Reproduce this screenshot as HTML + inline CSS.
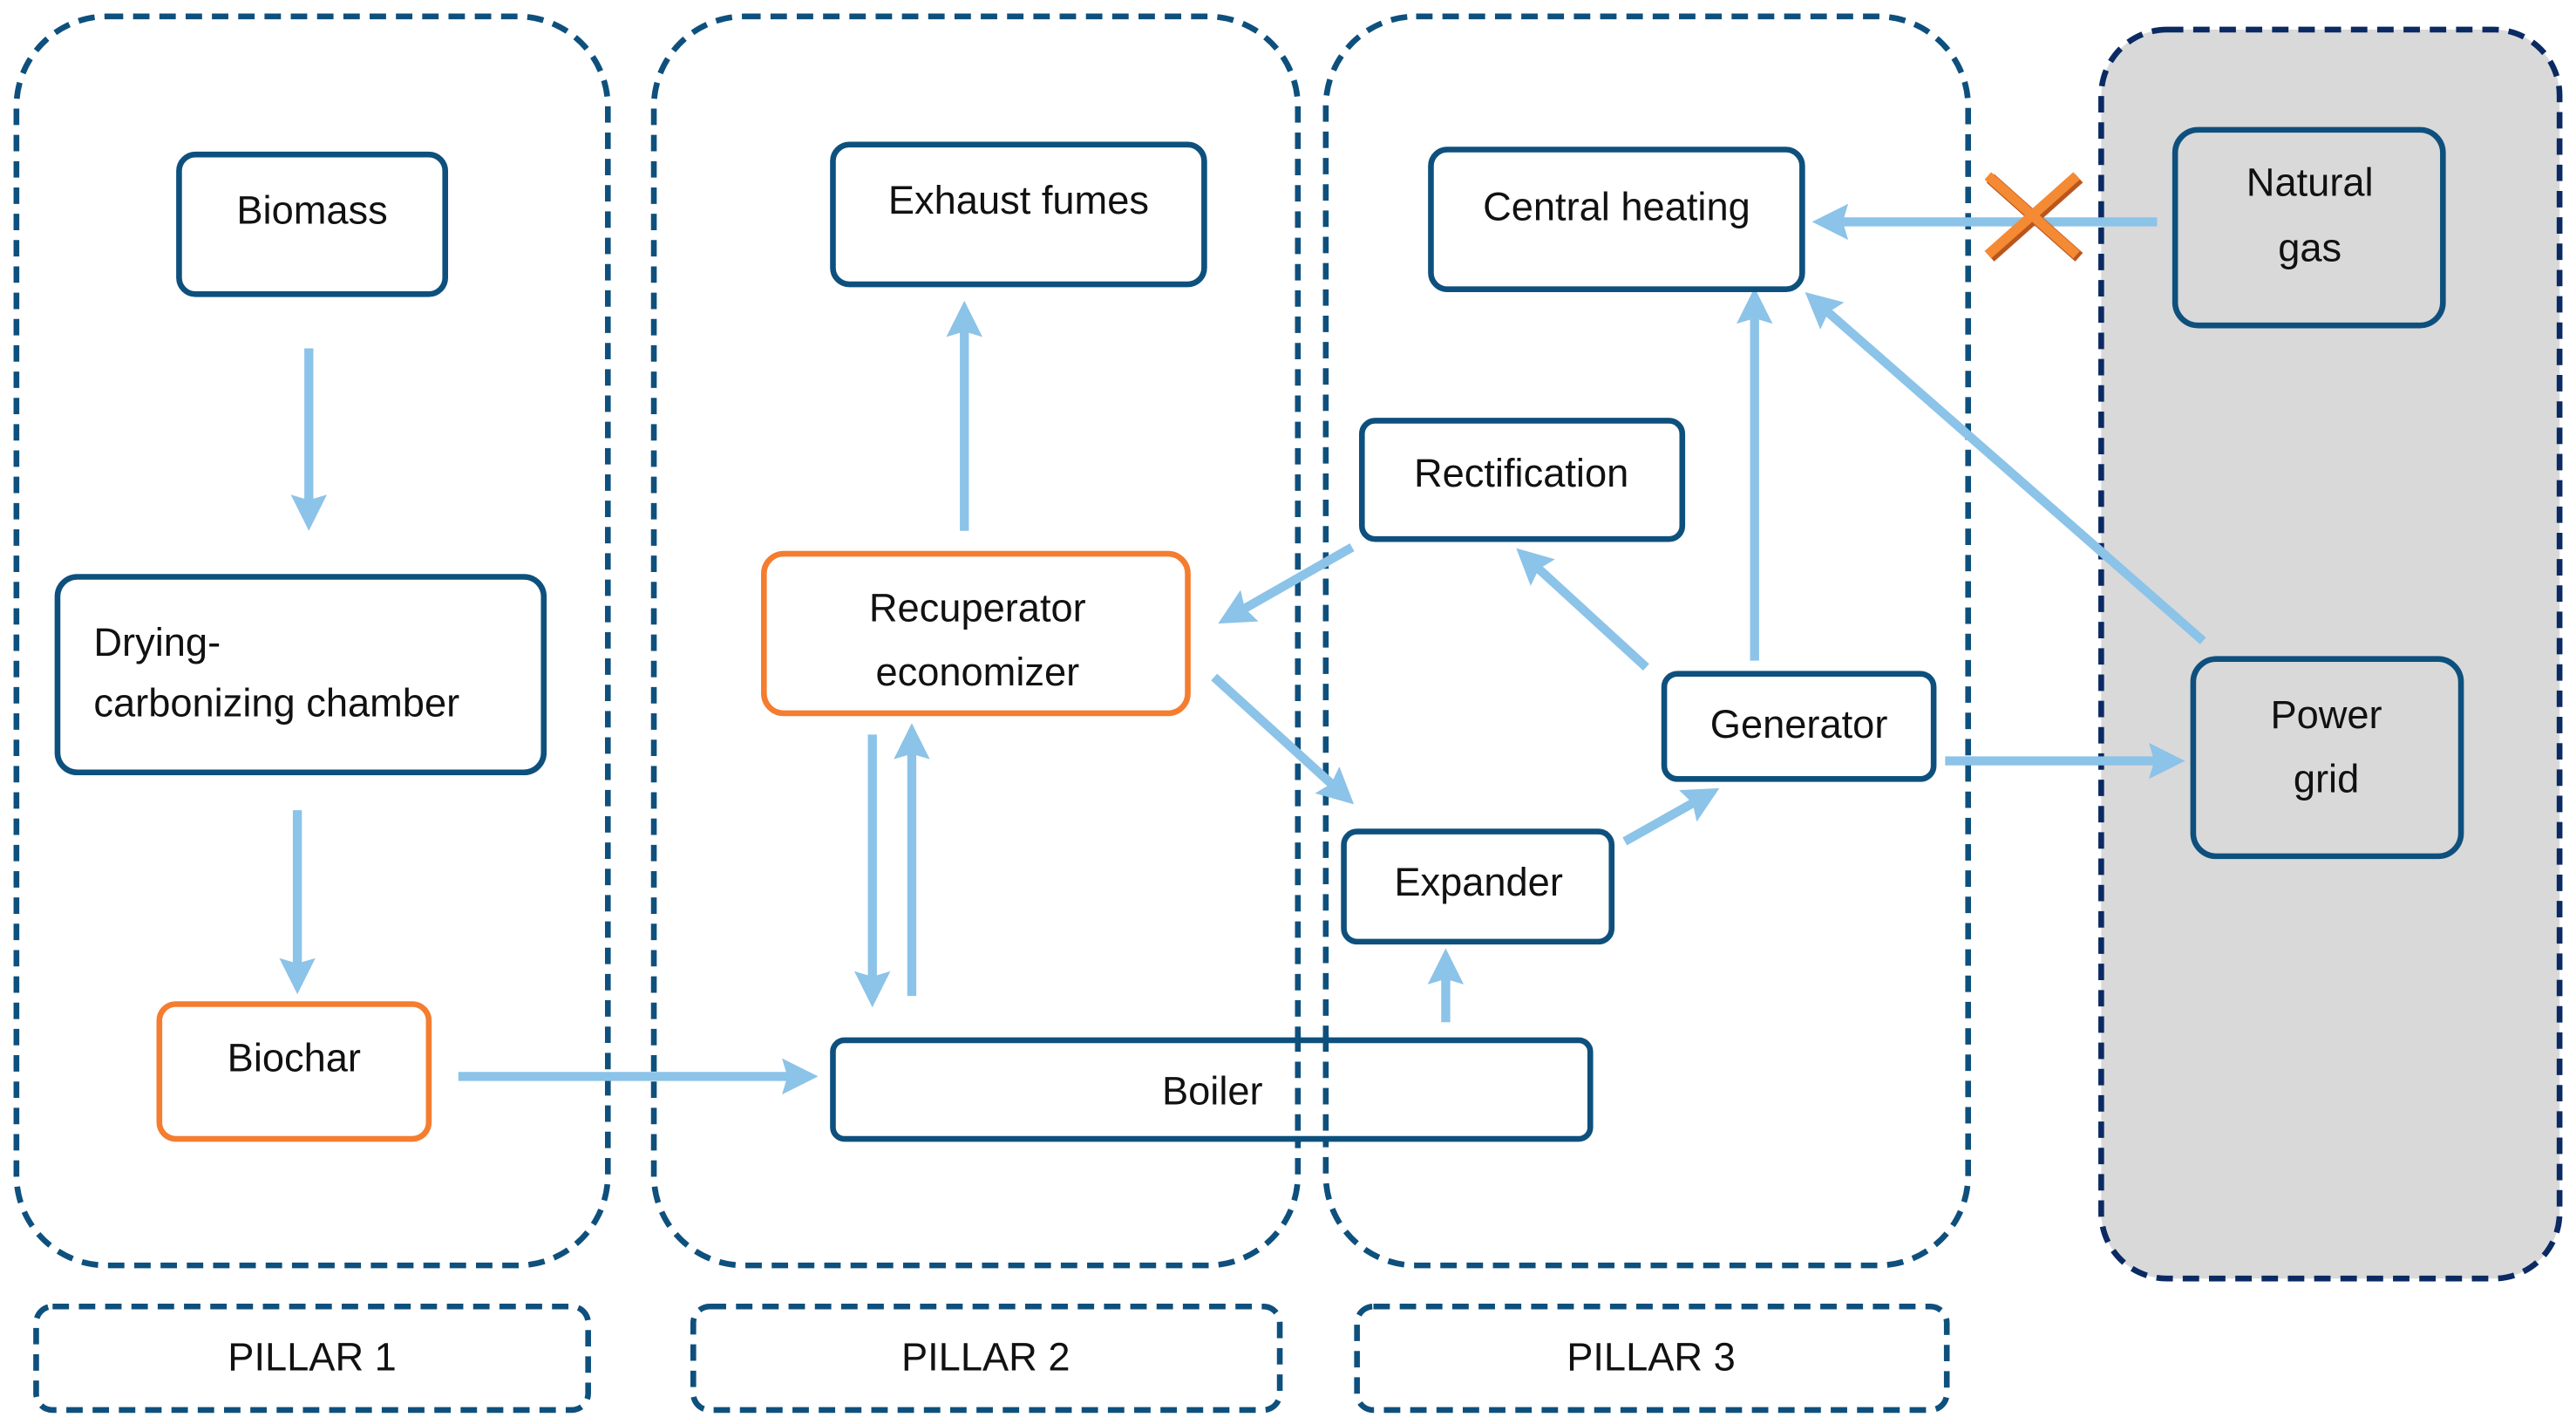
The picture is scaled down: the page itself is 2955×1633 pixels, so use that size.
<!DOCTYPE html>
<html><head><meta charset="utf-8"><style>
html,body{margin:0;padding:0;background:#fff;}
svg{display:block;}
text{font-family:"Liberation Sans",sans-serif;font-size:24px;fill:#111;}
</style></head><body>
<svg width="2955" height="1633" viewBox="0 0 1568 866.5" preserveAspectRatio="none" xmlns="http://www.w3.org/2000/svg">
<defs>
<marker id="a" markerWidth="4" markerHeight="4" refX="2" refY="2" orient="auto" markerUnits="strokeWidth">
<path d="M0,0 L4,2 L0,4 L0.6,2 Z" fill="#8cc3e8"/>
</marker>
</defs>
<g fill="none" stroke="#0e507d" stroke-width="3.5" stroke-dasharray="10,6">
<rect x="10" y="10" width="360" height="760" rx="55"/>
<rect x="398" y="10" width="392" height="760" rx="55"/>
<rect x="807" y="10" width="391" height="760" rx="55"/>
<rect x="22" y="795" width="336" height="63" rx="10"/>
<rect x="422" y="795" width="357" height="63" rx="10"/>
<rect x="826" y="795" width="359" height="63" rx="10"/>
</g>
<rect x="1279" y="18" width="279" height="760" rx="40" fill="#d9d9d9" stroke="#0b2a63" stroke-width="3.5" stroke-dasharray="10,6"/>
<text x="190" y="834" text-anchor="middle">PILLAR 1</text>
<text x="600" y="834" text-anchor="middle">PILLAR 2</text>
<text x="1005" y="834" text-anchor="middle">PILLAR 3</text>

<g stroke="#8cc3e8" stroke-width="5.5" fill="none" marker-end="url(#a)">
<line x1="188" y1="212" x2="188" y2="312"/>
<line x1="181" y1="493" x2="181" y2="594"/>
<line x1="279" y1="655" x2="487" y2="655"/>
<line x1="587" y1="323" x2="587" y2="194"/>
<line x1="531" y1="447" x2="531" y2="602"/>
<line x1="555" y1="606" x2="555" y2="451"/>
<line x1="823" y1="333" x2="751" y2="374"/>
<line x1="739" y1="412" x2="816" y2="482"/>
<line x1="880" y1="622" x2="880" y2="588"/>
<line x1="989" y1="512" x2="1037" y2="485"/>
<line x1="1002" y1="406" x2="931" y2="341"/>
<line x1="1068" y1="402" x2="1068" y2="186"/>
<line x1="1341" y1="390" x2="1107" y2="185"/>
<line x1="1313" y1="135" x2="1114" y2="135"/>
<line x1="1184" y1="463" x2="1319" y2="463"/>
</g>

<g fill="#fff" stroke="#0e507d" stroke-width="3.5">
<rect x="109" y="94" width="162" height="85" rx="10"/>
<rect x="35" y="351" width="296" height="119" rx="12"/>
<rect x="507" y="88" width="226" height="85" rx="10"/>
<rect x="507" y="633" width="461" height="60" rx="7"/>
<rect x="871" y="91" width="226" height="85" rx="10"/>
<rect x="829" y="256" width="195" height="72" rx="8"/>
<rect x="1013" y="410" width="164" height="64" rx="8"/>
<rect x="818" y="506" width="163" height="67" rx="8"/>
</g>
<g fill="#d9d9d9" stroke="#0e507d" stroke-width="3.5">
<rect x="1324" y="79" width="163" height="119" rx="14"/>
<rect x="1335" y="401" width="163" height="120" rx="14"/>
</g>
<g fill="#fff" stroke="#f47d30" stroke-width="3.5">
<rect x="97" y="611" width="164" height="82" rx="10"/>
<rect x="465" y="337" width="258" height="97" rx="12"/>
</g>
<g stroke="#0e507d" stroke-width="3.5" stroke-dasharray="10,6">
<line x1="790" y1="630" x2="790" y2="696"/>
<line x1="807" y1="630" x2="807" y2="696"/>
</g>

<g stroke-linecap="butt">
<line x1="1210" y1="107" x2="1264" y2="155" stroke="#b9561c" stroke-width="7" transform="translate(1.5,1.5)"/>
<line x1="1210" y1="155" x2="1264" y2="107" stroke="#b9561c" stroke-width="7" transform="translate(1.5,1.5)"/>
<line x1="1210" y1="107" x2="1264" y2="155" stroke="#f58a35" stroke-width="6"/>
<line x1="1210" y1="155" x2="1264" y2="107" stroke="#f58a35" stroke-width="6"/>
</g>

<text x="190" y="136" text-anchor="middle">Biomass</text>
<text x="57" y="399">Drying-</text>
<text x="57" y="436">carbonizing chamber</text>
<text x="179" y="652" text-anchor="middle">Biochar</text>
<text x="620" y="130" text-anchor="middle">Exhaust fumes</text>
<text x="595" y="378" text-anchor="middle">Recuperator</text>
<text x="595" y="417" text-anchor="middle">economizer</text>
<text x="738" y="672" text-anchor="middle">Boiler</text>
<text x="984" y="134" text-anchor="middle">Central heating</text>
<text x="926" y="296" text-anchor="middle">Rectification</text>
<text x="1095" y="449" text-anchor="middle">Generator</text>
<text x="900" y="545" text-anchor="middle">Expander</text>
<text x="1406" y="119" text-anchor="middle">Natural</text>
<text x="1406" y="159" text-anchor="middle">gas</text>
<text x="1416" y="443" text-anchor="middle">Power</text>
<text x="1416" y="482" text-anchor="middle">grid</text>
</svg>
</body></html>
